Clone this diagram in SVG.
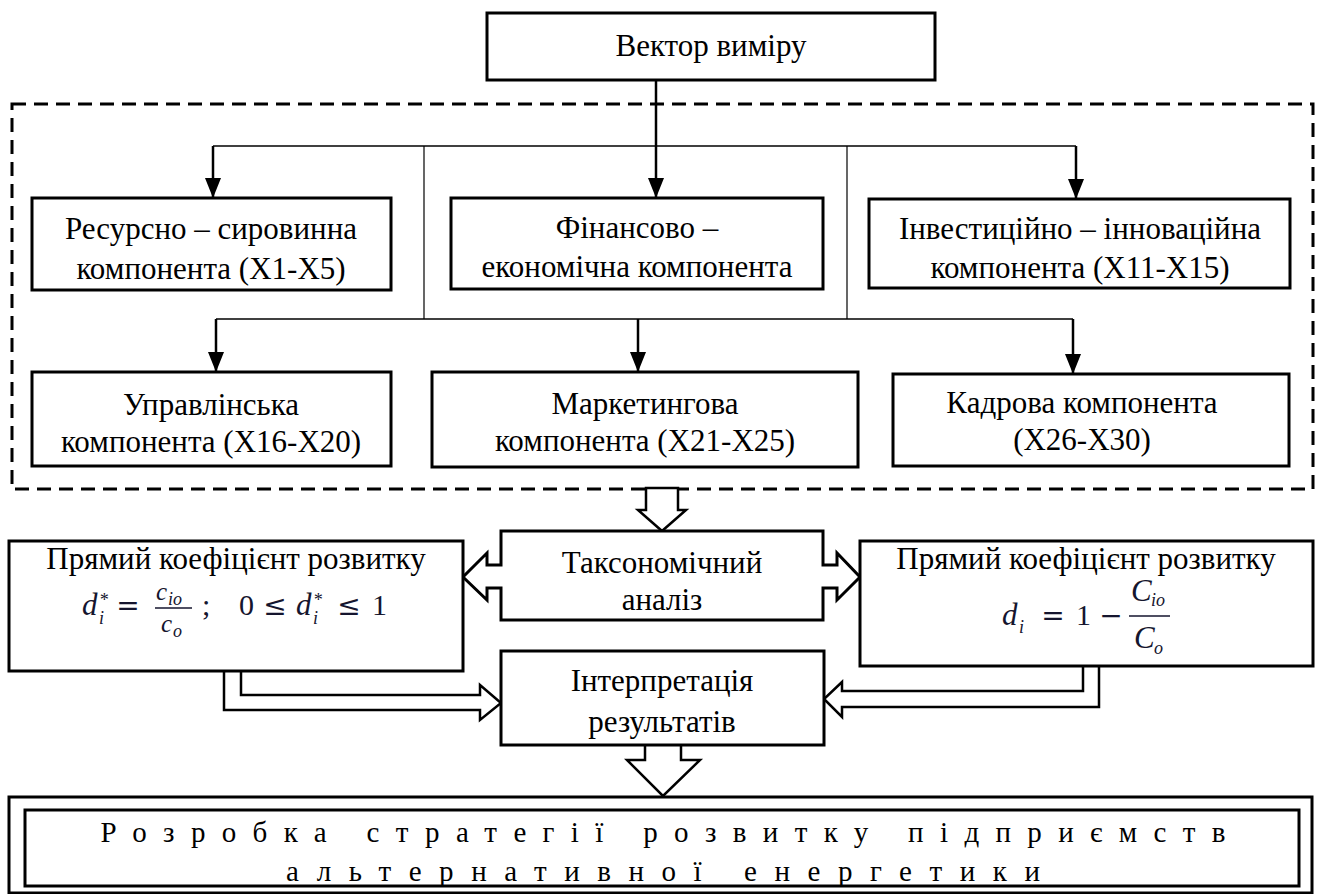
<svg xmlns="http://www.w3.org/2000/svg" width="1322" height="894" viewBox="0 0 1322 894">
<defs>
<style>
.box{fill:#fff;stroke:#000;stroke-width:3}
.t{font-family:'Liberation Serif','Times New Roman','DejaVu Serif',serif;font-size:31px;text-anchor:middle;fill:#000}
.b{font-family:'Liberation Serif','Times New Roman','DejaVu Serif',serif;font-size:29px;text-anchor:middle;fill:#000}
.thin{stroke:#000;stroke-width:1.5;fill:none}
.vthin{stroke:#000;stroke-width:1.2;fill:none}
.arr{stroke:#000;stroke-width:2.5;fill:none;marker-end:url(#ah)}
.hollow{fill:#fff;stroke:#000;stroke-width:2.5;stroke-linejoin:miter}
.mi{font-family:'Liberation Serif','DejaVu Serif',serif;font-style:italic;font-size:31px;fill:#15152e}
.ms{font-family:'Liberation Serif','DejaVu Serif',serif;font-style:italic;font-size:18px;fill:#15152e}
.mo{font-family:'DejaVu Serif',serif;font-size:28px;fill:#15152e;text-anchor:middle}
.mn{font-family:'Liberation Serif','DejaVu Serif',serif;font-size:30px;fill:#15152e}
</style>
<marker id="ah" viewBox="0 0 20 16" refX="20" refY="8" markerWidth="20" markerHeight="16" markerUnits="userSpaceOnUse" orient="auto">
<path d="M0,0 L20,8 L0,16 z" fill="#000"/>
</marker>
</defs>
<rect width="1322" height="894" fill="#fff"/>

<g id="dashed-frame">
<rect x="12" y="104" width="1301" height="385" fill="none" stroke="#000" stroke-width="3" stroke-dasharray="14 8"/>
</g>

<g id="connectors">
<line class="arr" x1="656" y1="80" x2="656" y2="198"/>
<line class="thin" x1="213" y1="146" x2="1076" y2="146"/>
<line class="arr" x1="213" y1="146" x2="213" y2="198"/>
<line class="arr" x1="1076" y1="146" x2="1076" y2="199"/>
<line class="vthin" x1="424" y1="146" x2="424" y2="319"/>
<line class="vthin" x1="847" y1="146" x2="847" y2="319"/>
<line class="thin" x1="216" y1="319" x2="1073" y2="319"/>
<line class="arr" x1="216" y1="319" x2="216" y2="372"/>
<line class="arr" x1="638" y1="319" x2="638" y2="372"/>
<line class="arr" x1="1073" y1="319" x2="1073" y2="374"/>
<path class="hollow" d="M646,488 L678,488 L678,510 L686,510 L662,531 L638,510 L646,510 Z"/>
<path class="hollow" d="M224,671 L224,710 L480,710 L480,720 L501,703 L480,685 L480,695 L241,695 L241,671"/>
<path class="hollow" d="M1083,666 L1083,691 L842,691 L842,682 L824,699 L842,717 L842,707 L1099,707 L1099,666"/>
<path class="hollow" d="M645,745 L645,760 L627,760 L663,796 L700,760 L681,760 L681,745"/>
</g>

<g id="vector">
<rect class="box" x="487" y="13" width="448" height="67"/>
<text class="t" x="711" y="56">Вектор виміру</text>
</g>

<g id="resource">
<rect class="box" x="32" y="198" width="359" height="92"/>
<text class="t" x="211" y="239">Ресурсно – сировинна</text>
<text class="t" x="211" y="279">компонента (X1-X5)</text>
</g>

<g id="finance">
<rect class="box" x="451" y="198" width="372" height="91"/>
<text class="t" x="637" y="238">Фінансово –</text>
<text class="t" x="637" y="277">економічна компонента</text>
</g>

<g id="invest">
<rect class="box" x="869" y="199" width="421" height="89"/>
<text class="t" x="1080" y="239">Інвестиційно – інноваційна</text>
<text class="t" x="1080" y="278">компонента (X11-X15)</text>
</g>

<g id="management">
<rect class="box" x="32" y="372" width="359" height="94"/>
<text class="t" x="211" y="415">Управлінська</text>
<text class="t" x="211" y="452">компонента (X16-X20)</text>
</g>

<g id="marketing">
<rect class="box" x="432" y="372" width="426" height="95"/>
<text class="t" x="645" y="414">Маркетингова</text>
<text class="t" x="645" y="451">компонента (X21-X25)</text>
</g>

<g id="personnel">
<rect class="box" x="893" y="374" width="396" height="92"/>
<text class="t" x="1082" y="413">Кадрова компонента</text>
<text class="t" x="1082" y="450">(X26-X30)</text>
</g>

<g id="taxonomy">
<path class="box" d="M501,531 L823,531 L823,565 L837,565 L837,553 L860,577 L837,600 L837,588 L823,588 L823,620 L501,620 L501,588 L487,588 L487,600 L463,577 L487,553 L487,565 L501,565 Z"/>
<text class="t" x="662" y="573">Таксономічний</text>
<text class="t" x="662" y="610">аналіз</text>
</g>

<g id="direct-left">
<rect class="box" x="9" y="541" width="454" height="130"/>
<text class="t" x="236" y="569">Прямий коефіцієнт розвитку</text>
<text class="mi" x="82" y="615">d</text>
<text class="ms" x="99" y="606">*</text>
<text class="ms" x="99" y="624">i</text>
<text class="mo" x="128" y="615">=</text>
<text class="mi" x="156" y="600" style="font-size:25px">c</text>
<text class="ms" x="168" y="605">io</text>
<line x1="155" y1="608" x2="192" y2="608" stroke="#15152e" stroke-width="1.5"/>
<text class="mi" x="161" y="632" style="font-size:25px">c</text>
<text class="ms" x="173" y="637">o</text>
<text class="mn" x="202" y="615">;</text>
<text class="mn" x="239" y="615">0</text>
<text class="mo" x="275" y="615">≤</text>
<text class="mi" x="296" y="615">d</text>
<text class="ms" x="313" y="606">*</text>
<text class="ms" x="313" y="624">i</text>
<text class="mo" x="349" y="615">≤</text>
<text class="mn" x="372" y="615">1</text>
</g>

<g id="direct-right">
<rect class="box" x="860" y="541" width="453" height="125"/>
<text class="t" x="1086" y="569">Прямий коефіцієнт розвитку</text>
<text class="mi" x="1002" y="625">d</text>
<text class="ms" x="1019" y="633">i</text>
<text class="mo" x="1053" y="625">=</text>
<text class="mn" x="1076" y="625">1</text>
<text class="mo" x="1111" y="625">−</text>
<line x1="1129" y1="616" x2="1170" y2="616" stroke="#15152e" stroke-width="1.5"/>
<text class="mi" x="1131" y="601">C</text>
<text class="ms" x="1151" y="606">io</text>
<text class="mi" x="1134" y="648">C</text>
<text class="ms" x="1154" y="654">o</text>
</g>

<g id="interpretation">
<rect class="box" x="501" y="651" width="323" height="94"/>
<text class="t" x="662" y="691">Інтерпретація</text>
<text class="t" x="662" y="732">результатів</text>
</g>

<g id="strategy">
<rect class="box" x="9" y="797" width="1303" height="96"/>
<rect class="box" x="25" y="810" width="1274" height="76"/>
<text class="b" x="663" y="842" textLength="1125" lengthAdjust="spacing">Розробка стратегії розвитку підприємств</text>
<text class="b" x="663" y="881" textLength="754" lengthAdjust="spacing">альтернативної енергетики</text>
</g>
</svg>
